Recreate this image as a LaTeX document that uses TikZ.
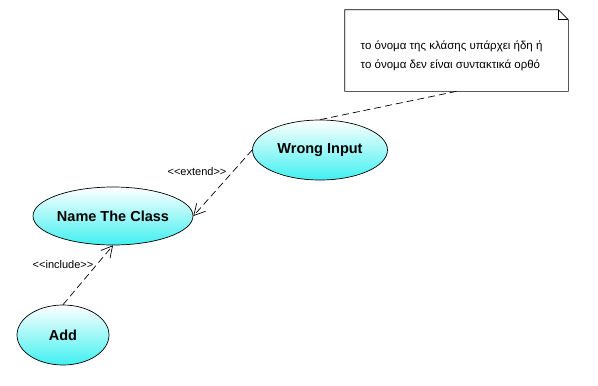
\documentclass[tikz,border=0pt]{standalone}
\usepackage{fontspec}
\setmainfont{Liberation Sans}
\usetikzlibrary{shapes.geometric, arrows.meta, calc}
\definecolor{ucfill}{RGB}{64,240,240}

\begin{document}
\begin{tikzpicture}[
  x=1pt, y=-1pt, line width=0.7pt,
  uc/.style={ellipse, draw, top color=white, bottom color=ucfill,
    font=\fontsize{14.5}{16}\selectfont\bfseries, inner sep=0pt},
  dep/.style={dashed, dash pattern=on 7pt off 4pt, -{Straight Barb[length=11pt, width=12pt]}},
  stereo/.style={font=\fontsize{11}{13}\selectfont}
]
  \useasboundingbox (0,0) rectangle (598,386);

  %--- Use cases ---
  \node[uc, minimum width=135, minimum height=60] (wrong) at (320,150) {Wrong Input};
  \node[uc, minimum width=160, minimum height=58] (cls)   at (113,216) {Name The Class};
  \node[uc, minimum width=92,  minimum height=60] (add)   at (63,335)  {Add};

  %--- Note ---
  \node[minimum width=223, minimum height=81, inner sep=0pt] (note) at (456.5,50.5) {};
  \draw ($(note.north west)$) -- ($(note.north east)+(-10,0)$)
        -- ($(note.north east)+(0,10)$) -- (note.south east)
        -- (note.south west) -- cycle;
  \draw ($(note.north east)+(-10,0)$) -- ($(note.north east)+(-10,10)$)
        -- ($(note.north east)+(0,10)$);
  \node[anchor=west, align=left, font=\fontsize{11.5}{19}\selectfont] (notetext) at (357,56)
    {το όνομα της κλάσης υπάρχει ήδη ή\\το όνομα δεν είναι συντακτικά ορθό};

  % Connectors
  \draw[dashed, dash pattern=on 7pt off 4pt] (note.south) -- (wrong.north);
  \draw[dep] (wrong.west) -- (cls.east);
  \draw[dep] (add.north) -- (cls.south);

  % Stereotypes
  \node[stereo] (extlbl) at (197,172) {{<}{<}extend{>}{>}};
  \node[stereo] (inclbl) at (63,265)  {{<}{<}include{>}{>}};
\end{tikzpicture}
\end{document}
